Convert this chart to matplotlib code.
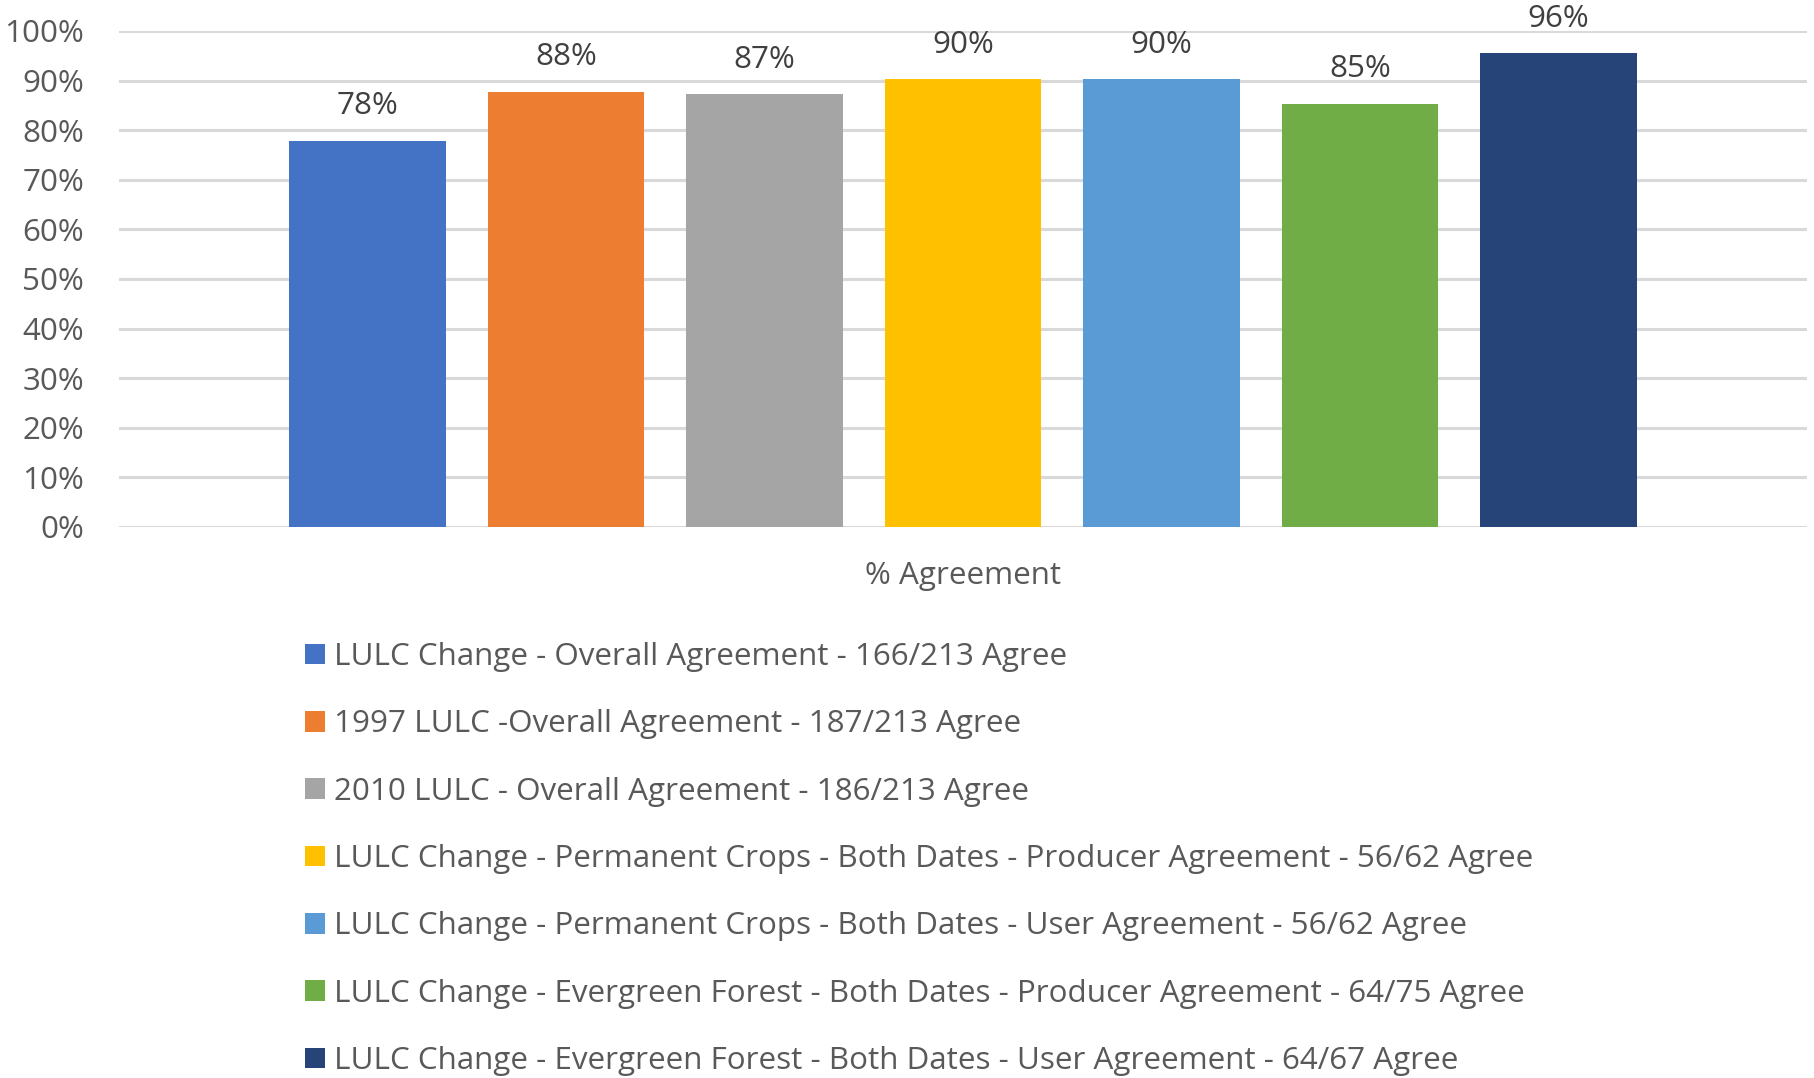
import matplotlib
matplotlib.use("Agg")
import matplotlib.pyplot as plt
from matplotlib.ticker import PercentFormatter

# Data
series = [
    "LULC Change - Overall Agreement - 166/213 Agree",
    "1997 LULC -Overall Agreement - 187/213 Agree",
    "2010 LULC - Overall Agreement - 186/213 Agree",
    "LULC Change - Permanent Crops - Both Dates - Producer Agreement - 56/62 Agree",
    "LULC Change - Permanent Crops - Both Dates - User Agreement - 56/62 Agree",
    "LULC Change - Evergreen Forest - Both Dates - Producer Agreement - 64/75 Agree",
    "LULC Change - Evergreen Forest - Both Dates - User Agreement - 64/67 Agree",
]
values = [0.779, 0.878, 0.873, 0.903, 0.903, 0.853, 0.955]
category = "% Agreement"
colors = ["#4472C4", "#ED7D31", "#A5A5A5", "#FFC000", "#5B9BD5", "#70AD47", "#264478"]

plt.rcParams["font.family"] = ["Open Sans", "DejaVu Sans"]
TXT = "#595959"
FS = 22.6

W, H = 1814, 1078
fig = plt.figure(figsize=(W / 100, H / 100), dpi=100)
ax = fig.add_axes([119 / W, 1 - 527 / H, (1807 - 119) / W, (527 - 31) / H])

n = len(values)
xs = list(range(n))
bw = 0.786
bars = []
for i in range(n):
    b = ax.bar(xs[i], values[i], width=bw, color=colors[i], label=series[i], zorder=3)
    bars.append(b)
    ax.bar_label(b, labels=[f"{values[i]:.0%}"], padding=14, fontsize=FS, color="#404040")

half = (1807 - 119) / 198.5 / 2
ax.set_xlim((n - 1) / 2 - half, (n - 1) / 2 + half)
ax.set_ylim(0, 1)
ax.set_yticks([i / 10 for i in range(11)])
ax.yaxis.set_major_formatter(PercentFormatter(1.0, decimals=0))
ax.set_xticks([(n - 1) / 2])
ax.set_xticklabels([category])
ax.tick_params(axis="y", length=0, pad=25, labelsize=FS, labelcolor=TXT)
ax.tick_params(axis="x", length=0, pad=24.5, labelsize=FS, labelcolor=TXT)
ax.grid(axis="y", color="#D9D9D9", linewidth=2.2, zorder=0)
for s in ax.spines.values():
    s.set_visible(False)

leg = fig.legend(handles=[b for b in bars], labels=series,
                 loc="upper left", bbox_to_anchor=(305 / W, 1 - 642 / H),
                 frameon=False, fontsize=FS, labelcolor=TXT,
                 handlelength=0.64, handleheight=0.64, handletextpad=0.29,
                 labelspacing=1.19, borderpad=0, borderaxespad=0)

fig.savefig("out.png", dpi=100)
